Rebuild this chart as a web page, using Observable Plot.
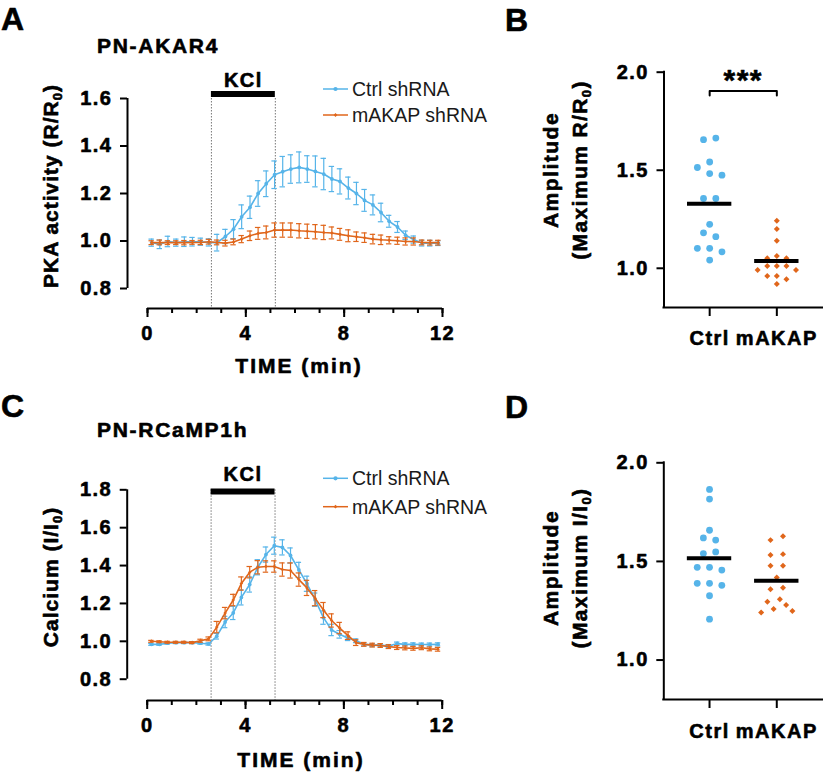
<!DOCTYPE html>
<html>
<head>
<meta charset="utf-8">
<script src="https://cdn.jsdelivr.net/npm/d3@7"></script>
<script src="https://cdn.jsdelivr.net/npm/@observablehq/plot@0.6"></script>
<style>
  html, body { margin: 0; padding: 0; background: #fff; overflow: hidden; }
  #fig { position: relative; width: 826px; height: 777px; overflow: hidden; background: #fff; }
  #fig > svg { position: absolute; }
</style>
</head>
<body>
<div id="fig"></div>
<script>
const FONT = '"Liberation Sans", Arial, Helvetica, sans-serif';
const BLUE = "#56B4E9";
const ORANGE = "#E0661B";

// ---------- data ----------
const seriesNames = ["Ctrl shRNA", "mAKAP shRNA"];
const groups = ["Ctrl", "mAKAP"];
const kclWindow = [2.6, 5.2];
const time = [0.17, 0.5, 0.83, 1.17, 1.5, 1.83, 2.17, 2.5, 2.83, 3.17, 3.5, 3.83,
  4.17, 4.5, 4.83, 5.17, 5.5, 5.83, 6.17, 6.5, 6.83, 7.17, 7.5, 7.83,
  8.17, 8.5, 8.83, 9.17, 9.5, 9.83, 10.17, 10.5, 10.83, 11.17, 11.5, 11.83];

// Panel A: PN-AKAR4 (R/R0)
const akarCtrl = [0.993, 0.986, 0.998, 0.993, 0.997, 0.997, 0.997, 0.994, 0.993, 1.019, 1.050, 1.102,
  1.142, 1.200, 1.241, 1.279, 1.292, 1.303, 1.310, 1.303, 1.293, 1.282, 1.261, 1.251,
  1.223, 1.200, 1.171, 1.152, 1.120, 1.083, 1.059, 1.024, 1.006, 0.991, 0.991, 0.991];
const akarCtrlSem = [0.015, 0.018, 0.022, 0.015, 0.020, 0.018, 0.015, 0.015, 0.035, 0.030, 0.040, 0.050,
  0.047, 0.054, 0.054, 0.058, 0.064, 0.060, 0.065, 0.056, 0.065, 0.066, 0.053, 0.053,
  0.046, 0.047, 0.046, 0.042, 0.039, 0.025, 0.023, 0.018, 0.015, 0.012, 0.012, 0.010];
const akarMakap = [0.993, 0.994, 0.993, 0.993, 0.993, 0.994, 0.994, 0.997, 0.994, 0.991, 0.996, 1.008,
  1.022, 1.032, 1.036, 1.046, 1.046, 1.046, 1.043, 1.041, 1.039, 1.036, 1.034, 1.028,
  1.022, 1.018, 1.014, 1.008, 1.005, 1.003, 1.001, 0.998, 0.998, 0.994, 0.993, 0.993];
const akarMakapSem = [0.008, 0.010, 0.008, 0.008, 0.009, 0.008, 0.009, 0.010, 0.010, 0.012, 0.012, 0.015,
  0.020, 0.025, 0.027, 0.030, 0.030, 0.030, 0.030, 0.030, 0.030, 0.030, 0.025, 0.025,
  0.025, 0.020, 0.020, 0.020, 0.020, 0.015, 0.015, 0.015, 0.015, 0.010, 0.010, 0.010];

// Panel C: PN-RCaMP1h (I/I0)
const rcampCtrl = [0.984, 0.984, 0.990, 0.993, 0.993, 0.993, 0.990, 0.986, 1.027, 1.102, 1.150, 1.232,
  1.300, 1.391, 1.458, 1.505, 1.496, 1.453, 1.377, 1.304, 1.220, 1.125, 1.060, 1.037,
  1.016, 1.003, 0.984, 0.980, 0.980, 0.975, 0.988, 0.984, 0.984, 0.983, 0.983, 0.984];
const rcampCtrlSem = [0.005, 0.005, 0.005, 0.005, 0.005, 0.005, 0.005, 0.006, 0.015, 0.030, 0.035, 0.040,
  0.040, 0.040, 0.040, 0.045, 0.040, 0.040, 0.040, 0.040, 0.035, 0.035, 0.030, 0.020,
  0.012, 0.010, 0.008, 0.008, 0.008, 0.008, 0.008, 0.008, 0.008, 0.008, 0.008, 0.008];
const rcampMakap = [1.000, 0.998, 0.995, 0.995, 0.995, 0.993, 1.003, 1.013, 1.075, 1.149, 1.218, 1.305,
  1.365, 1.391, 1.395, 1.395, 1.379, 1.374, 1.326, 1.282, 1.228, 1.165, 1.110, 1.070,
  1.030, 0.993, 0.984, 0.980, 0.978, 0.972, 0.967, 0.965, 0.963, 0.966, 0.960, 0.958];
const rcampMakapSem = [0.005, 0.005, 0.005, 0.005, 0.005, 0.005, 0.008, 0.010, 0.030, 0.030, 0.030, 0.035,
  0.030, 0.035, 0.030, 0.030, 0.035, 0.040, 0.035, 0.040, 0.040, 0.040, 0.035, 0.030,
  0.020, 0.015, 0.010, 0.010, 0.010, 0.010, 0.010, 0.010, 0.010, 0.010, 0.010, 0.010];

// Panel B: amplitude PN-AKAR4
const ampAkarCtrl = [1.664, 1.656, 1.542, 1.514, 1.483, 1.475, 1.356, 1.356, 1.224, 1.181, 1.161, 1.102, 1.102, 1.084, 1.042];
const ampAkarMakap = [1.242, 1.200, 1.140, 1.063, 1.051, 1.051, 1.012, 1.012, 1.012, 0.991, 0.991, 0.961, 0.961, 0.944, 0.920];
// Panel D: amplitude PN-RCaMP1h
const ampRcampCtrl = [1.865, 1.816, 1.658, 1.619, 1.608, 1.548, 1.540, 1.470, 1.470, 1.456, 1.389, 1.389, 1.379, 1.326, 1.207];
const ampRcampMakap = [1.628, 1.608, 1.537, 1.532, 1.478, 1.478, 1.419, 1.367, 1.359, 1.308, 1.296, 1.279, 1.259, 1.249, 1.241];
const sigBracket = {from: 0, to: 1, y: 1.904, drop: 0.023, label: "***"};

// tick labels
const xMajorTicks = [0, 4, 8, 12];
const xMinorTicks = [0, 1, 2, 3, 4, 5, 6, 7, 8, 9, 10, 11, 12];
const akarTicks = [0.8, 1.0, 1.2, 1.4, 1.6];
const rcampTicks = [0.8, 1.0, 1.2, 1.4, 1.6, 1.8];
const ampTicks = [1.0, 1.5, 2.0];

// ---------- helpers ----------
const fig = document.getElementById("fig");
const fmt1 = d3.format(".1f");
const SPACING = 1.5;

function baseStyle() {
  return {fontFamily: FONT, fontSize: "20px", fontWeight: "bold", color: "black",
    background: "transparent", overflow: "visible", letterSpacing: SPACING + "px"};
}

function place(svg, box) {
  svg.style.left = box.left + "px";
  svg.style.top = box.top + "px";
  fig.appendChild(svg);
  return d3.select(svg);
}

function embolden(sel) {
  sel.selectAll("text").filter(function () { return !this.classList.contains("leg"); })
    .style("stroke", "black").style("stroke-width", "0.6px").style("stroke-linejoin", "round");
}

function plainText(sel, x, y, str, size, anchor, spacing) {
  return sel.append("text").attr("x", x).attr("y", y)
    .attr("text-anchor", anchor || "start")
    .style("font-family", FONT).style("font-size", size + "px").style("font-weight", "bold")
    .style("letter-spacing", (spacing == null ? SPACING : spacing) + "px")
    .attr("fill", "black").text(str);
}

function richVText(sel, x, y, parts, size, spacing) {
  const t = sel.append("text")
    .attr("transform", `translate(${x},${y}) rotate(-90)`)
    .attr("text-anchor", "middle")
    .style("font-family", FONT).style("font-size", size + "px").style("font-weight", "bold")
    .style("letter-spacing", (spacing == null ? SPACING : spacing) + "px")
    .attr("fill", "black");
  for (const [s, sub] of parts) {
    const ts = t.append("tspan").text(s);
    if (sub) ts.attr("baseline-shift", "-28%").style("font-size", (size * 0.62) + "px");
  }
  return t;
}

function legend(sel, x0, ys) {
  [[BLUE, seriesNames[0], d3.symbolCircle, 14], [ORANGE, seriesNames[1], d3.symbolDiamond2, 9]].forEach(([c, name, sym, size], i) => {
    const y = ys[i];
    sel.append("line").attr("x1", x0).attr("x2", x0 + 25).attr("y1", y).attr("y2", y)
      .attr("stroke", c).attr("stroke-width", 1.5);
    sel.append("path").attr("d", d3.symbol(sym, size)()).attr("transform", `translate(${x0 + 12.5},${y})`).attr("fill", c);
    sel.append("text").attr("class", "leg").attr("x", x0 + 29).attr("y", y).attr("dy", "0.35em")
      .attr("text-anchor", "start")
      .style("font-family", FONT).style("font-size", "19.5px").style("font-weight", "normal")
      .style("letter-spacing", "0px")
      .attr("fill", "#1a1a1a").text(name);
  });
}

function timePanel(cfg) {
  const mk = (mean, sem) => time.map((t, i) => ({t, v: mean[i], e: sem[i]}));
  const series = [
    {color: BLUE, data: mk(cfg.ctrl, cfg.ctrlSem), symbol: "circle", r: 1.9},
    {color: ORANGE, data: mk(cfg.makap, cfg.makapSem), symbol: "diamond2", r: 1.6}
  ];
  const cap = 0.11;
  const [y0, y1] = cfg.yDomain;
  const xDomain = [xMajorTicks[0], xMajorTicks[xMajorTicks.length - 1]];
  const marks = [Plot.ruleX(kclWindow, {stroke: "#777", strokeWidth: 1, strokeDasharray: "1.5,1.5"})];
  for (const s of series) {
    marks.push(
      Plot.ruleX(s.data, {x: "t", y1: d => d.v - d.e, y2: d => d.v + d.e, stroke: s.color, strokeWidth: 1.2}),
      Plot.ruleY(s.data, {y: d => d.v + d.e, x1: d => d.t - cap, x2: d => d.t + cap, stroke: s.color, strokeWidth: 1.2}),
      Plot.ruleY(s.data, {y: d => d.v - d.e, x1: d => d.t - cap, x2: d => d.t + cap, stroke: s.color, strokeWidth: 1.2}),
      Plot.line(s.data, {x: "t", y: "v", stroke: s.color, strokeWidth: 1.6}),
      Plot.dot(s.data, {x: "t", y: "v", fill: s.color, r: s.r, symbol: s.symbol})
    );
  }
  marks.push(
    Plot.ruleY([y1], {x1: kclWindow[0], x2: kclWindow[1], stroke: "black", strokeWidth: 6, dy: cfg.barDy}),
    Plot.text(["KCl"], {x: d3.mean(kclWindow), y: y1, text: d => d, dy: cfg.kclDy, lineAnchor: "bottom", fontSize: 20, fontWeight: "bold"}),
    Plot.ruleX([xDomain[0]], {y1: y0, y2: y1, dx: -cfg.inset.left, strokeWidth: 2}),
    Plot.ruleY([y0], {x1: xDomain[0], x2: xDomain[1], dy: cfg.inset.bottom, strokeWidth: 2}),
    Plot.axisY(cfg.yTicks, {tickSize: 7, tickPadding: 8, tickFormat: fmt1, strokeWidth: 2, label: null, fontSize: 20}),
    Plot.axisX(xMinorTicks, {tickSize: 5, tickFormat: () => "", strokeWidth: 2, label: null}),
    Plot.axisX(xMajorTicks, {tickSize: 9, tickPadding: cfg.xPad, tickFormat: d3.format("d"), strokeWidth: 2, label: null, fontSize: 20})
  );
  const svg = Plot.plot({
    width: cfg.box.width, height: cfg.box.height,
    marginTop: cfg.margin.top, marginRight: cfg.margin.right, marginBottom: cfg.margin.bottom, marginLeft: cfg.margin.left,
    x: {domain: xDomain, insetLeft: cfg.inset.left, label: null},
    y: {domain: cfg.yDomain, insetBottom: cfg.inset.bottom, label: null},
    style: baseStyle(),
    marks
  });
  const sel = place(svg, cfg.box);
  plainText(sel, cfg.letter.x, cfg.letter.y, cfg.letter.text, 32, "start", 0);
  plainText(sel, cfg.title.x, cfg.title.y, cfg.title.text, 21, "start", 1.7);
  richVText(sel, cfg.ylabel.x, cfg.ylabel.y, cfg.ylabel.parts, 21, 1.0);
  plainText(sel, cfg.xlabel.x, cfg.xlabel.y, "TIME (min)", 21, "middle", 2.0);
  embolden(sel);
  legend(sel, 323, cfg.legendY);
}

function swarmOffsets(values, pxPerUnit, stepPx, diam) {
  const order = d3.range(values.length).sort((a, b) => values[b] - values[a]);
  const placed = [];
  const off = new Array(values.length).fill(0);
  for (const i of order) {
    const y = values[i] * pxPerUnit;
    for (let k = 0; k < 20; k++) {
      const cands = k === 0 ? [0] : [-k * stepPx / 2, k * stepPx / 2];
      const ok = cands.find(x => placed.every(p => Math.hypot(p.x - x, p.y - y) >= diam + 1));
      if (ok !== undefined) { placed.push({x: ok, y, i}); off[i] = ok; break; }
    }
  }
  const sorted = placed.slice().sort((a, b) => b.y - a.y);
  let comp = [];
  const flush = () => {
    if (comp.length) {
      const c = (d3.min(comp, p => p.x) + d3.max(comp, p => p.x)) / 2;
      comp.forEach(p => off[p.i] = p.x - c);
    }
    comp = [];
  };
  for (const p of sorted) {
    if (comp.length && comp[comp.length - 1].y - p.y >= diam) flush();
    comp.push(p);
  }
  flush();
  return off;
}

function ampPanel(cfg) {
  const frameW = cfg.box.width - cfg.margin.left - cfg.margin.right;
  const frameH = cfg.box.height - cfg.margin.top - cfg.margin.bottom;
  const pad = 0.68;
  const catStepPx = frameW / (1 + 2 * pad);
  const [y0, y1] = cfg.yDomain;
  const pxPerUnit = frameH / (y1 - y0);
  const pts = [];
  [cfg.ctrl, cfg.makap].forEach((vals, gi) => {
    const off = swarmOffsets(vals, pxPerUnit, cfg.swarmStep[gi], gi === 0 ? 7.5 : 6.5);
    vals.forEach((v, i) => pts.push({g: gi, v, x: gi + off[i] / catStepPx}));
  });
  const means = [cfg.ctrl, cfg.makap].map((vals, gi) => ({g: gi, m: d3.mean(vals)}));
  const marks = [
    Plot.dot(pts.filter(d => d.g === 0), {x: "x", y: "v", r: 3.4, fill: BLUE}),
    Plot.dot(pts.filter(d => d.g === 1), {x: "x", y: "v", r: 2.7, fill: ORANGE, symbol: "diamond2"}),
    Plot.ruleY(means, {y: "m", x1: d => d.g - 0.33, x2: d => d.g + 0.33, stroke: "black", strokeWidth: 4}),
    Plot.ruleX([-pad], {y1: y0, y2: y1, strokeWidth: 2, strokeLinecap: "square"}),
    Plot.ruleY([y0], {x1: -pad, x2: 1 + pad, strokeWidth: 2, strokeLinecap: "square"}),
    Plot.axisY(ampTicks, {tickSize: 7, tickPadding: 8, tickFormat: fmt1, strokeWidth: 2, label: null, fontSize: 20}),
    Plot.axisX([0, 1], {tickSize: 9, tickPadding: cfg.xPad, tickFormat: i => groups[i], strokeWidth: 2, label: null, fontSize: 20})
  ];
  if (cfg.bracket) {
    const b = cfg.bracket;
    const path = [[b.from, b.y - b.drop], [b.from, b.y], [b.to, b.y], [b.to, b.y - b.drop]];
    marks.push(
      Plot.line(path, {x: d => d[0], y: d => d[1], stroke: "black", strokeWidth: 2}),
      Plot.text([b.label], {x: (b.from + b.to) / 2, y: b.y, text: d => d, dy: -1, lineAnchor: "bottom", fontSize: 30, fontWeight: "bold"})
    );
  }
  const svg = Plot.plot({
    width: cfg.box.width, height: cfg.box.height,
    marginTop: cfg.margin.top, marginRight: cfg.margin.right, marginBottom: cfg.margin.bottom, marginLeft: cfg.margin.left,
    x: {domain: [-pad, 1 + pad], label: null},
    y: {domain: cfg.yDomain, label: null},
    style: baseStyle(),
    marks
  });
  const sel = place(svg, cfg.box);
  plainText(sel, cfg.letter.x, cfg.letter.y, cfg.letter.text, 32, "start", 0);
  richVText(sel, 58, cfg.ylabelY, [["Amplitude"]], 21, 1.5);
  richVText(sel, 87, cfg.ylabelY, cfg.ylabel2, 21, 1.4);
  embolden(sel);
}

// ---------- panels ----------
timePanel({
  box: {left: 0, top: 0, width: 470, height: 390},
  margin: {top: 98, right: 28, bottom: 82, left: 127},
  inset: {left: 20, bottom: 20},
  yDomain: [0.8, 1.6], yTicks: akarTicks,
  ctrl: akarCtrl, ctrlSem: akarCtrlSem, makap: akarMakap, makapSem: akarMakapSem,
  barDy: -4.5, kclDy: -11.5, xPad: 8,
  letter: {x: 1, y: 30, text: "A"},
  title: {x: 97, y: 53, text: "PN-AKAR4"},
  ylabel: {x: 58, y: 186, parts: [["PKA activity (R/R"], ["0", true], [")"]]},
  xlabel: {x: 299, y: 373},
  legendY: [89, 115]
});

ampPanel({
  box: {left: 500, top: 0, width: 326, height: 390},
  margin: {top: 71.7, right: 4, bottom: 83, left: 163.5},
  yDomain: [0.8, 2.0],
  ctrl: ampAkarCtrl, makap: ampAkarMakap,
  swarmStep: [12.3, 9.6], xPad: 14,
  bracket: sigBracket,
  letter: {x: 5, y: 30.5, text: "B"},
  ylabelY: 170,
  ylabel2: [["(Maximum R/R"], ["0", true], [")"]]
});

timePanel({
  box: {left: 0, top: 390, width: 470, height: 387},
  margin: {top: 99.3, right: 28.3, bottom: 77, left: 126.7},
  inset: {left: 20, bottom: 21.3},
  yDomain: [0.8, 1.8], yTicks: rcampTicks,
  ctrl: rcampCtrl, ctrlSem: rcampCtrlSem, makap: rcampMakap, makapSem: rcampMakapSem,
  barDy: 1.7, kclDy: -9.3, xPad: 8.7,
  letter: {x: 1, y: 27, text: "C"},
  title: {x: 97, y: 47, text: "PN-RCaMP1h"},
  ylabel: {x: 58.3, y: 187, parts: [["Calcium (I/I"], ["0", true], [")"]]},
  xlabel: {x: 301, y: 377},
  legendY: [88.3, 116.7]
});

ampPanel({
  box: {left: 500, top: 390, width: 326, height: 387},
  margin: {top: 72.3, right: 4, bottom: 78, left: 163.3},
  yDomain: [0.8, 2.0],
  ctrl: ampRcampCtrl, makap: ampRcampMakap,
  swarmStep: [12.3, 12.5], xPad: 15,
  bracket: null,
  letter: {x: 5, y: 28, text: "D"},
  ylabelY: 178,
  ylabel2: [["(Maximum I/I"], ["0", true], [")"]]
});
</script>
</body>
</html>
